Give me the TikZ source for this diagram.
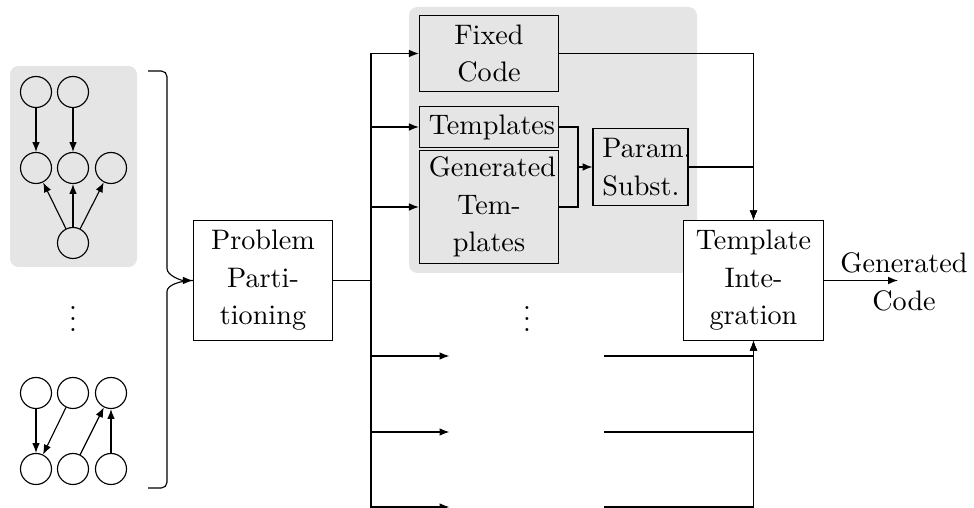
\documentclass[tikz,border=0pt]{standalone}
\usepackage{amsmath, amssymb}
\usetikzlibrary{arrows, arrows.meta, positioning, calc}
\tikzset{
	block/.style={rectangle, draw, text width=1.5cm, align=center, font=\fontsize{10}{13.3}\selectfont},
	tplpart/.style={block, inner ysep=2.7pt},
	genpart/.style={block, inner ysep=2.1pt},
	subst/.style={block, text width=27pt},
	hole/.style={minimum width=54.3pt, inner sep=0pt},
	vertex/.style={circle, draw, minimum size=11pt, inner sep=0pt},
	group/.style={fill=gray!20, rounded corners=3pt},
	line/.style={draw, -{Latex[length=3.5pt, width=2.7pt]}}
}

\begin{document}
\begin{tikzpicture}[x=0.3546pt, y=-0.3546pt]
	\useasboundingbox (0,0) rectangle (974,508);
	% shaded areas
	\fill[group] (10,66) rectangle (137,267);
	\fill[group] (409,7) rectangle (697,273);

	% first input graph
	\node[vertex] (a1) at (36,92) {};
	\node[vertex] (a2) at (73,92) {};
	\node[vertex] (m1) at (36,168) {};
	\node[vertex] (m2) at (73,168) {};
	\node[vertex] (m3) at (111,168) {};
	\node[vertex] (r) at (73,243) {};
	\draw[line] (a1) -- (m1);
	\draw[line] (a2) -- (m2);
	\draw[line] (r) -- (m1);
	\draw[line] (r) -- (m2);
	\draw[line] (r) -- (m3);

	\node[anchor=base] (dl) at (73,332) {$\vdots$};

	% last input graph
	\node[vertex] (t1) at (36,393) {};
	\node[vertex] (t2) at (73,393) {};
	\node[vertex] (t3) at (111,393) {};
	\node[vertex] (u1) at (36,469) {};
	\node[vertex] (u2) at (73,469) {};
	\node[vertex] (u3) at (111,469) {};
	\draw[line] (t1) -- (u1);
	\draw[line] (t2) -- (u1);
	\draw[line] (u2) -- (t3);
	\draw[line] (u3) -- (t3);

	% blocks
	\node[block] (pp) at (263,280.5) {Problem\\Parti-\\tioning};
	\node[block] (fc) at (489,53.5) {Fixed\\Code};
	\node[tplpart] (tpl) at (489,127) {Templates};
	\node[genpart] (gen) at (489,207) {Generated\\Tem-\\plates};
	\node[subst] (ps) at (640.5,167) {Param.\\Subst.};
	\node[block, fill=white] (ti) at (753.5,280.5) {Template\\Inte-\\gration};
	\node[align=center, font=\fontsize{10}{13.3}\selectfont] (gc) at (904,282) {Generated\\Code};
	\node[anchor=base] (dm) at (527,332) {$\vdots$};
	\node[hole] (b1) at (526.5,356) {};
	\node[hole] (b2) at (526.5,432) {};
	\node[hole] (b3) at (526.5,507) {};

	% brace into partitioning
	\draw[line, rounded corners=2pt] (148,71) -| (167,263) [sharp corners] to[out=-90, in=180] (pp.west);
	\draw[rounded corners=2pt] (148,488) -| (167,297) [sharp corners] to[out=90, in=180] (pp.west);

	% distribution bus
	\coordinate (bus) at (371,280.5);
	\draw (pp.east) -- (bus);
	\foreach \n in {fc,tpl,gen,b1,b2,b3}
		\draw[line] (bus) |- (\n.west);

	% parameter substitution
	\coordinate (mrg) at (578,167);
	\draw (tpl.east) -| (mrg);
	\draw (gen.east) -| (mrg);
	\draw[line] (mrg) -- (ps.west);

	% integration
	\draw[line] (fc.east) -| (ti.north);
	\draw[line] (ps.east) -| (ti.north);
	\foreach \n in {b1,b2,b3}
		\draw[line] (\n.east) -| (ti.south);
	\coordinate (gcin) at (898,280.5);
	\draw[line] (ti.east) -- (gcin);
\end{tikzpicture}
\end{document}
